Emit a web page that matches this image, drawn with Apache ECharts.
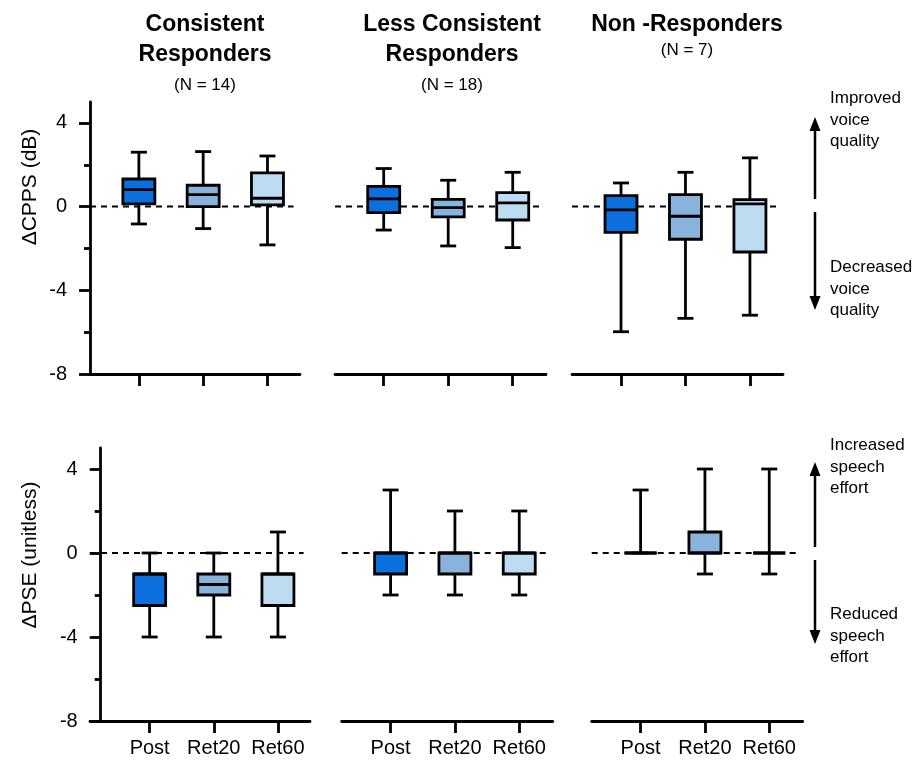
<!DOCTYPE html>
<html><head><meta charset="utf-8">
<script src="https://cdn.jsdelivr.net/npm/echarts@6/dist/echarts.min.js"></script>
<style>html,body{margin:0;padding:0;background:#fff}#chart{width:917px;height:760px}</style>
</head><body><div id="chart"></div>
<script>
// ---------- data ----------
const categories = ['Post', 'Ret20', 'Ret60'];
const groupTitles = ['Consistent\nResponders', 'Less Consistent\nResponders', 'Non -Responders'];
const groupN = ['(N = 14)', '(N = 18)', '(N = 7)'];
const yTicks = [-8, -4, 0, 4];
const yNames = ['\u0394CPPS (dB)', '\u0394PSE (unitless)'];
// each box: [min, q1, median, q3, max]
const cppsConsistent     = [[-0.83, 0.13, 0.81, 1.32, 2.60], [-1.05, 0.00, 0.57, 1.02, 2.63], [-1.83, 0.08, 0.40, 1.61, 2.42]];
const cppsLessConsistent = [[-1.12, -0.29, 0.37, 0.97, 1.82], [-1.88, -0.49, -0.05, 0.35, 1.26], [-1.96, -0.64, 0.18, 0.67, 1.64]];
const cppsNonResponders  = [[-5.98, -1.23, -0.16, 0.53, 1.13], [-5.34, -1.56, -0.46, 0.57, 1.64], [-5.19, -2.17, 0.13, 0.33, 2.33]];
const pseConsistent      = [[-4, -2.5, -1, -1, 0], [-4, -2, -1.5, -1, 0], [-4, -2.5, -1, -1, 1]];
const pseLessConsistent  = [[-2, -1, 0, 0, 3], [-2, -1, 0, 0, 2], [-2, -1, 0, 0, 2]];
const pseNonResponders   = [[0, 0, 0, 0, 3], [-1, 0, 0, 1, 4], [-1, 0, 0, 0, 4]];
const topNotes = ['Improved\nvoice\nquality', 'Decreased\nvoice\nquality'];
const bottomNotes = ['Increased\nspeech\neffort', 'Reduced\nspeech\neffort'];

// ---------- style ----------
const colors = ['#0b6fde', '#89b3dc', '#bddcf2'];
const FONT = 'Liberation Sans, Arial, sans-serif';
const LW = 2.8;
const BLACK = '#000';

const panels = [
  { data: cppsConsistent,     grid: { left: 90,    top: 102, width: 210, height: 272 }, xr: [-0.76, 2.506], yShow: true,  yOff: 0,     xLabel: false },
  { data: cppsLessConsistent, grid: { left: 335,   top: 102, width: 211, height: 272 }, xr: [-0.755, 2.516], yShow: false, yOff: 0,     xLabel: false },
  { data: cppsNonResponders,  grid: { left: 572,   top: 102, width: 211, height: 272 }, xr: [-0.76, 2.513], yShow: false, yOff: 0,     xLabel: false },
  { data: pseConsistent,      grid: { left: 90,    top: 448, width: 220, height: 273 }, xr: [-0.93, 2.50],  yShow: true,  yOff: -10.7, xLabel: true },
  { data: pseLessConsistent,  grid: { left: 341.7, top: 448, width: 211, height: 273 }, xr: [-0.76, 2.52],  yShow: false, yOff: 0,     xLabel: true },
  { data: pseNonResponders,   grid: { left: 591.7, top: 448, width: 211, height: 273 }, xr: [-0.76, 2.52],  yShow: false, yOff: 0,     xLabel: true }
];

const lineStyle = { color: BLACK, width: LW };

const grids = panels.map(p => Object.assign({ containLabel: false }, p.grid));
const xAxes = panels.map((p, i) => ({
  gridIndex: i, type: 'value', min: p.xr[0], max: p.xr[1],
  axisLine: { show: true, onZero: false, lineStyle },
  axisTick: { show: true, length: 12, lineStyle, customValues: [0, 1, 2] },
  axisLabel: { show: p.xLabel, customValues: [0, 1, 2], formatter: v => categories[Math.round(v)],
               fontSize: 20, color: BLACK, fontFamily: FONT, margin: 17 },
  splitLine: { show: false }
}));
const yAxes = panels.map((p, i) => ({
  gridIndex: i, type: 'value', min: -8, max: 5, interval: 4, show: p.yShow, offset: p.yOff,
  axisLine: { show: true, onZero: false, lineStyle },
  axisTick: { show: true, length: 11, lineStyle, customValues: yTicks },
  minorTick: { show: true, splitNumber: 2, length: 6, lineStyle },
  axisLabel: { customValues: yTicks, fontSize: 20, color: BLACK, fontFamily: FONT, margin: 23 },
  splitLine: { show: false }, minorSplitLine: { show: false }
}));

function renderBox(params, api) {
  const x = api.value(0);
  const v = [1, 2, 3, 4, 5].map(k => api.value(k));
  const p = v.map(val => api.coord([x, val]));
  const cx = p[0][0];
  const hb = 16, hc = 8;
  const ls = { stroke: BLACK, lineWidth: LW, fill: null };
  return {
    type: 'group',
    children: [
      { type: 'line', shape: { x1: cx, y1: p[4][1], x2: cx, y2: p[0][1] }, style: ls },
      { type: 'line', shape: { x1: cx - hc, y1: p[4][1], x2: cx + hc, y2: p[4][1] }, style: ls },
      { type: 'line', shape: { x1: cx - hc, y1: p[0][1], x2: cx + hc, y2: p[0][1] }, style: ls },
      { type: 'rect', shape: { x: cx - hb, y: p[3][1], width: 2 * hb, height: p[1][1] - p[3][1] },
        style: { fill: colors[params.dataIndex], stroke: BLACK, lineWidth: LW } },
      { type: 'line', shape: { x1: cx - hb, y1: p[2][1], x2: cx + hb, y2: p[2][1] }, style: ls }
    ]
  };
}

const series = [];
panels.forEach((p, i) => {
  series.push({
    type: 'line', xAxisIndex: i, yAxisIndex: i, silent: true, symbol: 'none', z: 1,
    data: [[p.xr[0], 0], [p.xr[1] - 0.1, 0]],
    lineStyle: { color: BLACK, width: 2, type: [6, 5] }
  });
  series.push({
    type: 'custom', xAxisIndex: i, yAxisIndex: i, z: 3,
    data: p.data.map((d, k) => [k].concat(d)),
    encode: { x: 0, y: [1, 2, 3, 4, 5] },
    renderItem: renderBox
  });
});

// ---------- graphics (titles, annotations) ----------
const titleCenters = [205, 452, 687];
const graphic = [];
titleCenters.forEach((cx, i) => {
  graphic.push({ type: 'text', x: cx, y: 10, style: { text: groupTitles[i], font: 'bold 23px ' + FONT,
    fill: BLACK, align: 'center', verticalAlign: 'top', lineHeight: 30 } });
  graphic.push({ type: 'text', x: cx, y: i === 2 ? 50 : 85, style: { text: groupN[i], font: '17px ' + FONT,
    fill: BLACK, align: 'center', verticalAlign: 'middle' } });
});
graphic.push({ type: 'text', x: 30, y: 187, rotation: Math.PI / 2,
  style: { text: yNames[0], font: '21px ' + FONT, fill: BLACK, align: 'center', verticalAlign: 'middle' } });
graphic.push({ type: 'text', x: 30, y: 555, rotation: Math.PI / 2,
  style: { text: yNames[1], font: '21px ' + FONT, fill: BLACK, align: 'center', verticalAlign: 'middle' } });

function arrow(x, yFrom, yTip) {
  const dir = yTip < yFrom ? -1 : 1;
  const headH = 14, headW = 5.5;
  graphic.push({ type: 'line', shape: { x1: x, y1: yFrom, x2: x, y2: yTip - dir * headH + dir * 1 },
    style: { stroke: BLACK, lineWidth: 2.5 } });
  graphic.push({ type: 'polygon', shape: { points: [[x, yTip], [x - headW, yTip - dir * headH], [x + headW, yTip - dir * headH]] },
    style: { fill: BLACK } });
}
arrow(815, 199, 117);
arrow(815, 212, 310);
arrow(815, 547, 462);
arrow(815, 560, 644);
function note(text, top) {
  graphic.push({ type: 'text', x: 830, y: top, style: { text, font: '17px ' + FONT, fill: BLACK,
    align: 'left', verticalAlign: 'top', lineHeight: 21.5 } });
}
note(topNotes[0], 88);
note(topNotes[1], 257);
note(bottomNotes[0], 435);
note(bottomNotes[1], 604);

const chart = echarts.init(document.getElementById('chart'), null, { renderer: 'canvas' });
chart.setOption({
  animation: false,
  backgroundColor: '#fff',
  grid: grids, xAxis: xAxes, yAxis: yAxes, series, graphic
});
</script></body></html>
